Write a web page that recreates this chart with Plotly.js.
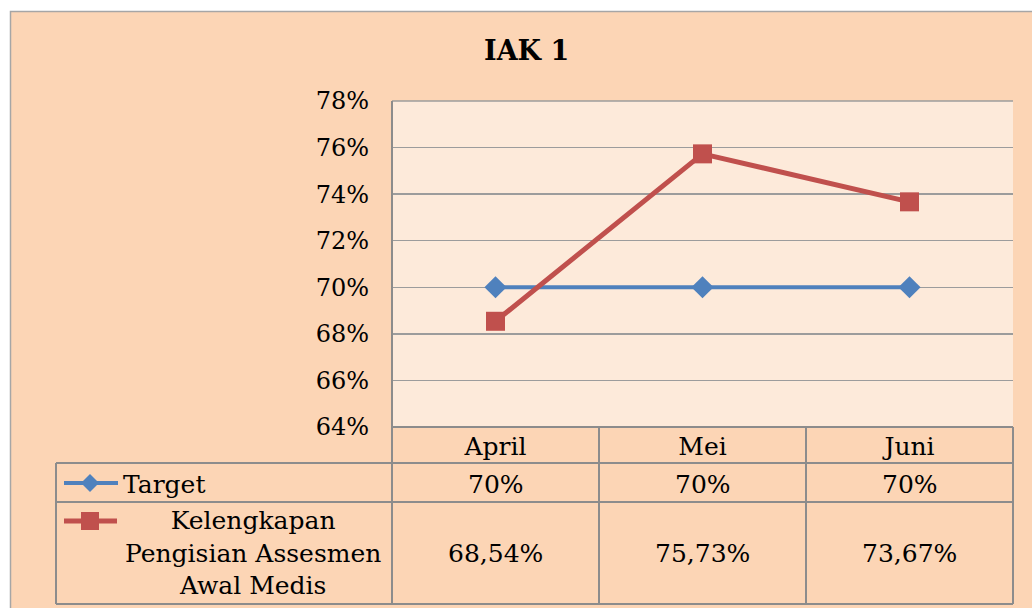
<!DOCTYPE html>
<html>
<head>
<meta charset="utf-8">
<script src="https://cdn.plot.ly/plotly-3.0.1.min.js"></script>
<style>html,body{margin:0;padding:0;background:#fff;}#chart{width:1032px;height:608px;}</style>
</head>
<body>
<div id="chart"></div>
<script>
var categories = ['April', 'Mei', 'Juni'];
var targetValues = [0.70, 0.70, 0.70];
var kelengkapanValues = [0.6854, 0.7573, 0.7367];
var seriesNames = ['Target', 'Kelengkapan<br>Pengisian Assesmen<br>Awal Medis'];
var chartTitle = 'IAK 1';

var W = 1032, H = 608;
var L = 392, R = 1013, T = 101, B = 427;
function X(px) { return (px - L) / (R - L); }
function Y(py) { return (B - py) / (B - T); }

var FONT = 'DejaVu Serif, Liberation Serif, serif';
var FS = 25;
var peach = '#FCD5B5';
var plotBg = '#FDEADA';
var gridC = '#9C9C9C';
var tblC = '#8C8C8C';
var blue = '#4F81BD';
var red = '#C0504D';

function fmt(v) {
  var p = v * 100;
  if (Math.abs(p - Math.round(p)) < 1e-9) return Math.round(p) + '%';
  return p.toFixed(2).replace('.', ',') + '%';
}

var traces = [
  {x: categories, y: targetValues, type: 'scatter', mode: 'lines+markers', name: 'Target',
   line: {color: blue, width: 4}, marker: {symbol: 'diamond', size: 17, color: blue}},
  {x: categories, y: kelengkapanValues, type: 'scatter', mode: 'lines+markers', name: 'Kelengkapan',
   line: {color: red, width: 5}, marker: {symbol: 'square', size: 19, color: red}}
];

var shapes = [];
function rect(x0, y0, x1, y1, fill, lc, lw) {
  shapes.push({type: 'rect', xref: 'paper', yref: 'paper', x0: X(x0), x1: X(x1), y0: Y(y0), y1: Y(y1),
    fillcolor: fill, line: {color: lc || fill, width: lw || 0}, layer: 'below'});
}
function hline(y, x0, x1, c, w) {
  shapes.push({type: 'line', xref: 'paper', yref: 'paper', x0: X(x0), x1: X(x1), y0: Y(y), y1: Y(y),
    line: {color: c, width: w}});
}
function vline(x, y0, y1, c, w) {
  shapes.push({type: 'line', xref: 'paper', yref: 'paper', x0: X(x), x1: X(x), y0: Y(y0), y1: Y(y1),
    line: {color: c, width: w}});
}
// outer chart area
rect(10.5, 11.5, W + 20, H + 20, peach, '#A6A6A6', 1.5);
// plot area
rect(L, T, R, B, plotBg, plotBg, 0);
// plot borders
hline(T, L, R, gridC, 1.5);
// table lines
hline(B, L, R, tblC, 2);
hline(463, 56, R, tblC, 2);
hline(502, 56, R, tblC, 2);
hline(604, 56, R, tblC, 2);
vline(56, 463, 604, tblC, 2);
vline(L, T, 604, tblC, 2);
vline(599, B, 604, tblC, 2);
vline(806, B, 604, tblC, 2);
vline(R, B, 604, tblC, 2);
// legend keys
hline(483, 64, 118, blue, 4);
shapes.push({type: 'path', xref: 'paper', yref: 'paper',
  path: 'M ' + X(90) + ' ' + Y(474) + ' L ' + X(99) + ' ' + Y(483) + ' L ' + X(90) + ' ' + Y(492) + ' L ' + X(81) + ' ' + Y(483) + ' Z',
  fillcolor: blue, line: {color: blue, width: 0}});
hline(521, 64, 117, red, 5);
shapes.push({type: 'rect', xref: 'paper', yref: 'paper', x0: X(81), x1: X(99), y0: Y(512), y1: Y(530),
  fillcolor: red, line: {color: red, width: 0}});

var annotations = [];
annotations.push({xref: 'paper', yref: 'paper', x: X(526), y: Y(50), text: '<b>' + chartTitle + '</b>',
  showarrow: false, font: {family: FONT, size: 27, color: '#000'}, xanchor: 'center', yanchor: 'middle'});
annotations.push({xref: 'paper', yref: 'paper', x: X(121), y: Y(484), text: seriesNames[0],
  showarrow: false, font: {family: FONT, size: FS, color: '#000'}, xanchor: 'left', yanchor: 'middle'});
annotations.push({xref: 'paper', yref: 'paper', x: X(253), y: Y(553), text: seriesNames[1],
  showarrow: false, font: {family: FONT, size: FS, color: '#000'}, xanchor: 'center', yanchor: 'middle', align: 'center'});
for (var i = 0; i < categories.length; i++) {
  annotations.push({xref: 'x', yref: 'paper', x: categories[i], y: Y(484), text: fmt(targetValues[i]),
    showarrow: false, font: {family: FONT, size: FS, color: '#000'}, xanchor: 'center', yanchor: 'middle'});
  annotations.push({xref: 'x', yref: 'paper', x: categories[i], y: Y(553), text: fmt(kelengkapanValues[i]),
    showarrow: false, font: {family: FONT, size: FS, color: '#000'}, xanchor: 'center', yanchor: 'middle'});
}

var layout = {
  width: W, height: H,
  margin: {l: L, r: W - R, t: T, b: H - B, pad: 0},
  paper_bgcolor: '#FFFFFF',
  plot_bgcolor: 'rgba(0,0,0,0)',
  showlegend: false,
  font: {family: FONT, size: FS, color: '#000'},
  xaxis: {type: 'category', range: [-0.5, 2.5], showgrid: false, zeroline: false, showline: false,
    ticks: '', ticklabelstandoff: 2, tickfont: {family: FONT, size: FS, color: '#000'}, fixedrange: true},
  yaxis: {range: [0.64, 0.78], dtick: 0.02, tick0: 0.64, tickformat: '.0%', showgrid: true, gridcolor: gridC, gridwidth: 1.5,
    zeroline: false, showline: false, ticks: '', ticklabelstandoff: 22, tickfont: {family: FONT, size: 24, color: '#000'}, fixedrange: true},
  shapes: shapes,
  annotations: annotations
};

Plotly.newPlot('chart', traces, layout, {displayModeBar: false, staticPlot: true});
</script>
</body>
</html>
